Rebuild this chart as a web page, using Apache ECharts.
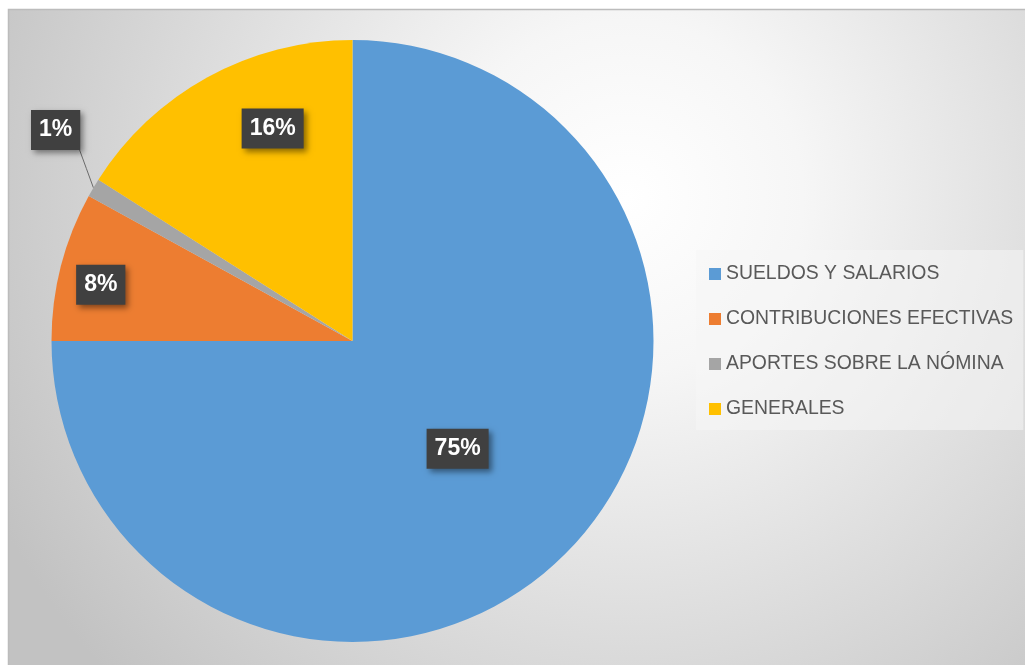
<!DOCTYPE html>
<html>
<head>
<meta charset="utf-8">
<title>Distribución del gasto en personal</title>
<script src="https://cdn.jsdelivr.net/npm/echarts@6/dist/echarts.min.js"></script>
<style>
  html, body { margin: 0; padding: 0; background: #ffffff; }
  #chart { width: 1025px; height: 665px; }
</style>
</head>
<body>
<div id="chart"></div>
<script>
// Categories and their shares (percent of total)
const categories = [
  'SUELDOS Y SALARIOS',
  'CONTRIBUCIONES EFECTIVAS',
  'APORTES SOBRE LA NÓMINA',
  'GENERALES'
];
const shares = [75, 8, 1, 16];
const sliceColors = ['#5B9BD5', '#ED7D31', '#A5A5A5', '#FFC000'];

// Pie geometry
const CX = 352.5, CY = 341, R = 301;
// Label placement: distance from centre (fraction of radius) and angular nudge (deg)
const labelRadius = [0.50, 0.857, 1.21, 0.754];
const labelNudge = [0.7, -1.8, 4.8, 8.2];

const total = shares.reduce((a, b) => a + b, 0);
function midAngle(i) {
  let before = 0;
  for (let k = 0; k < i; k++) before += shares[k];
  return (before + shares[i] / 2) / total * 360;
}
function polar(frac, deg) {
  const a = deg * Math.PI / 180;
  return [CX + frac * R * Math.sin(a), CY - frac * R * Math.cos(a)];
}

const chart = echarts.init(document.getElementById('chart'), null, { renderer: 'canvas' });

const option = {
  animation: false,
  graphic: [{
    type: 'rect',
    z: -10,
    silent: true,
    shape: { x: 8.5, y: 9.5, width: 1030, height: 670 },
    style: {
      fill: {
        type: 'radial', x: 0.6, y: 0.28, r: 1.05,
        colorStops: [
          { offset: 0, color: '#ffffff' },
          { offset: 0.25, color: '#f6f6f6' },
          { offset: 1, color: '#c2c2c2' }
        ]
      },
      stroke: '#bcbcbc',
      lineWidth: 1.5
    }
  }],
  legend: {
    orient: 'vertical',
    left: 696,
    top: 250,
    padding: [14, 10, 11, 13],
    backgroundColor: 'rgba(245,245,245,0.55)',
    icon: 'rect',
    itemWidth: 12,
    itemHeight: 12,
    itemGap: 25,
    textStyle: {
      fontFamily: '"Liberation Sans", Arial, sans-serif',
      fontSize: 19.4,
      lineHeight: 20,
      color: '#595959'
    },
    data: categories
  },
  series: [{
    type: 'pie',
    center: [CX, CY],
    radius: R,
    startAngle: 90,
    clockwise: true,
    avoidLabelOverlap: false,
    itemStyle: { borderWidth: 0 },
    emphasis: { disabled: true },
    label: {
      show: true,
      position: 'inside',
      formatter: '{c}%',
      fontFamily: '"Liberation Sans", Arial, sans-serif',
      fontWeight: 'bold',
      fontSize: 23,
      color: '#ffffff',
      backgroundColor: '#404040',
      padding: [9, 8, 8, 8],
      shadowBlur: 6,
      shadowColor: 'rgba(0,0,0,0.45)',
      shadowOffsetX: 3,
      shadowOffsetY: 3
    },
    labelLine: { show: false },
    labelLayout: function (params) {
      const i = params.dataIndex;
      const p = polar(labelRadius[i], midAngle(i) + labelNudge[i]);
      const out = { x: p[0], y: p[1], align: 'center', verticalAlign: 'middle' };
      if (i === 2) {
        const w = params.labelRect.width, h = params.labelRect.height;
        const edge = polar(1, midAngle(i));
        const end = [p[0] + w / 2 - 1, p[1] + h / 2 - 1];
        out.labelLinePoints = [edge, [(edge[0] + end[0]) / 2, (edge[1] + end[1]) / 2], end];
      }
      return out;
    },
    data: categories.map((name, i) => {
      const d = { name: name, value: shares[i], itemStyle: { color: sliceColors[i] } };
      if (i === 2) {
        d.label = { position: 'outside' };
        d.labelLine = { show: true, lineStyle: { color: '#6b6b6b', width: 1 } };
      }
      return d;
    })
  }]
};

chart.setOption(option);
</script>
</body>
</html>
